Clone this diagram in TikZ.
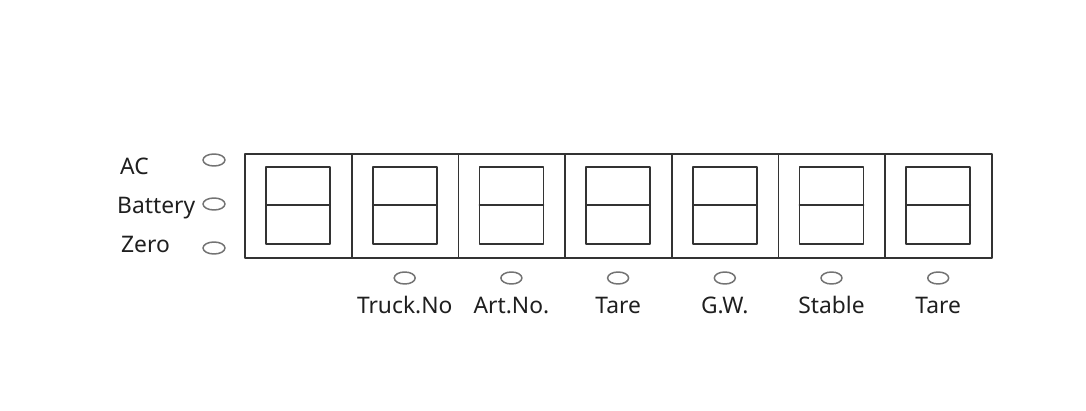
\documentclass[tikz,border=0pt]{standalone}
\usepackage{fontspec}
\setmainfont{Noto Sans}
\begin{document}
\begin{tikzpicture}[x=1pt,y=-1pt,line join=round,line cap=round,font=\fontsize{22.8}{26}\selectfont,
	panel/.style={draw=black!80,line width=1.6pt},
	led/.style={draw=black!55,line width=1.5pt},
	lbl/.style={inner sep=0pt,text=black!88},
	declare function={w=106.7;}]
	\useasboundingbox (0,0) rectangle (1086,411);
	% digit window
	\draw[panel] (245,154) rectangle (992,258);
	\foreach \i in {1,...,6}
	\draw[panel] (245+\i*w,154) -- (245+\i*w,258);
	\foreach \i in {0,...,6}{
		\begin{scope}[xshift={\i*w}]
			\draw[panel] (266,167) rectangle (330,244);
			\draw[panel] (266,205) -- (330,205);
		\end{scope}
	}
	% status lamps on the left
	\foreach \t/\y/\b/\xl in {AC/160/175/120,Battery/204/214/117,Zero/248/253/121}{
		\draw[led] (214,\y) ellipse (11pt and 6pt);
		\node[lbl,anchor=base west] (l\t) at (\xl,\b) {\t};
	}
	% lamps under the digits
	\foreach \t [count=\i] in {Truck.No,Art.No.,Tare,G.W.,Stable,Tare}{
		\draw[led] (298+\i*w,278) ellipse (10.5pt and 6pt);
		\node[lbl,anchor=base] (b\i) at (298+\i*w,313) {\t};
	}
\end{tikzpicture}
\end{document}
